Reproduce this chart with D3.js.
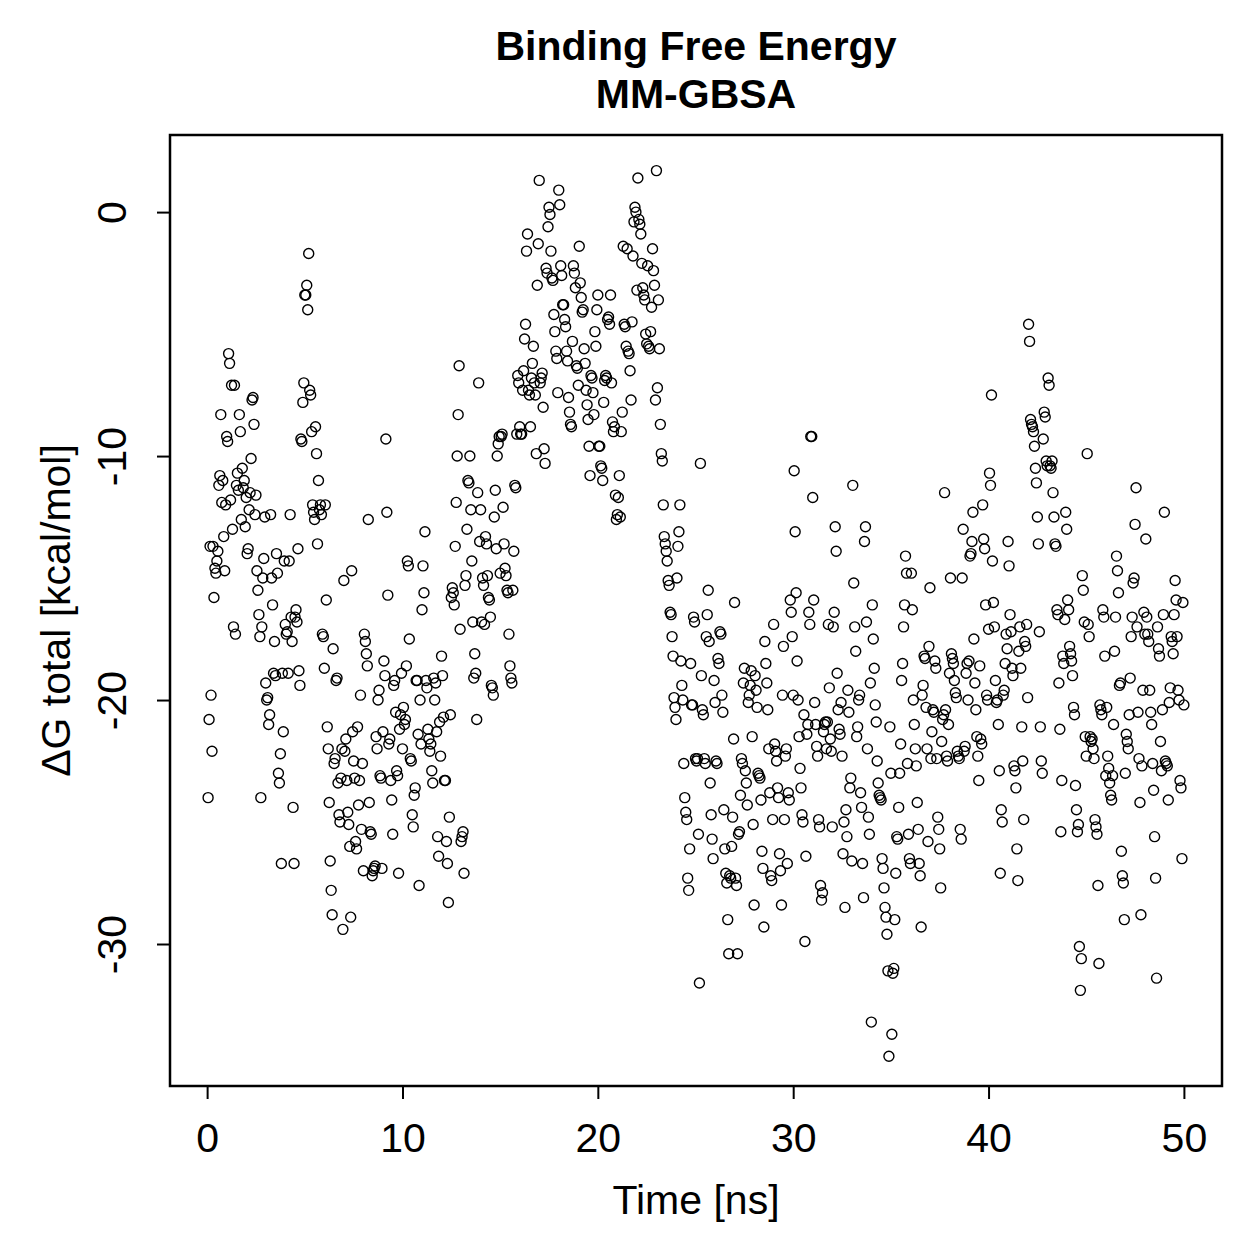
<!DOCTYPE html>
<html>
<head>
<meta charset="utf-8">
<script src="https://cdn.jsdelivr.net/npm/d3@7"></script>
<style>
  body { margin: 0; background: #fff; }
  text { font-family: "Liberation Sans", Arial, Helvetica, sans-serif; fill: #000; }
</style>
</head>
<body>
<div id="chart"></div>
<script>
// MM-GBSA dG per frame, one frame every 0.05 ns
const step = 0.05;

const dG_00_10 = [
  -24.0,-20.8,-13.7,-19.8,-22.1,-13.7,-15.8,-14.6,-14.8,-14.3,-13.9,-11.2,-10.8,-8.3,-11.9,-11.0,-13.3,-14.7,-12.0,-9.2,
  -9.4,-5.8,-6.2,-11.8,-7.1,-13.0,-17.0,-7.1,-17.3,-11.2,-10.7,-11.4,-8.3,-9.0,-12.6,-10.5,-11.3,-11.0,-12.9,-11.7,
  -14.0,-13.8,-12.2,-11.5,-10.1,-7.7,-7.6,-8.7,-12.4,-11.6,-14.7,-15.5,-16.5,-17.4,-24.0,-17.0,-15.0,-14.2,-12.5,-19.3,
  -20.0,-19.9,-21.0,-20.6,-12.4,-15.0,-16.1,-18.9,-17.6,-19.0,-14.0,-14.8,-23.0,-23.4,-22.2,-26.7,-18.9,-21.3,-14.3,-16.9,
  -17.3,-17.2,-18.9,-14.3,-12.4,-16.6,-17.6,-24.4,-26.7,-16.6,-16.3,-16.8,-13.8,-18.8,-19.4,-9.3,-9.4,-7.8,-7.0,-3.4,
  -3.4,-3.0,-4.0,-1.7,-7.3,-7.5,-9.0,-12.0,-12.3,-12.6,-8.8,-9.9,-13.6,-11.0,-12.2,-12.0,-12.4,-17.3,-17.4,-18.7,
  -12.0,-15.9,-21.1,-22.0,-24.2,-26.6,-27.8,-28.8,-17.9,-22.6,-22.4,-19.2,-19.1,-23.4,-24.7,-25.0,-23.2,-22.0,-29.4,-15.1,
  -22.1,-21.6,-23.3,-24.6,-25.1,-26.0,-28.9,-14.7,-21.3,-22.5,-23.2,-25.8,-26.1,-21.1,-24.3,-23.3,-19.8,-25.3,-22.6,-27.0,
  -17.3,-17.6,-18.1,-18.6,-12.6,-24.2,-25.4,-25.5,-27.2,-27.0,-26.9,-26.8,-21.5,-22.0,-20.0,-19.6,-23.1,-23.2,-26.9,-21.3,
  -18.4,-19.0,-9.3,-12.3,-15.7,-21.8,-21.6,-23.3,-24.1,-25.5,-19.4,-19.2,-20.5,-22.9,-23.1,-27.1,-21.2,-20.6,-18.9,-22.0
];

const dG_10_20 = [
  -20.3,-21.0,-20.8,-18.6,-14.3,-14.5,-17.5,-22.4,-22.5,-24.7,-25.2,-23.9,-23.6,-19.2,-19.2,-21.4,-27.6,-20.0,-21.8,-16.3,
  -14.5,-15.6,-13.1,-19.2,-19.5,-21.2,-21.6,-22.1,-21.8,-22.9,-23.4,-19.1,-20.0,-19.3,-21.3,-25.6,-26.4,-20.9,-22.3,-18.2,
  -19.0,-20.7,-23.3,-23.3,-25.8,-26.7,-28.3,-24.8,-20.6,-15.8,-15.4,-15.6,-16.1,-13.7,-11.9,-10.0,-8.3,-6.3,-17.1,-25.8,
  -25.6,-25.4,-27.1,-15.3,-14.9,-13.0,-11.0,-11.1,-10.0,-12.2,-14.3,-16.8,-19.1,-18.1,-18.9,-20.8,-11.5,-7.0,-13.5,-12.2,
  -16.8,-15.0,-15.3,-16.9,-13.3,-13.6,-14.9,-15.8,-15.9,-16.6,-19.4,-19.5,-19.8,-12.5,-11.4,-13.8,-10.0,-9.5,-9.2,-14.8,
  -9.2,-9.1,-12.1,-13.6,-14.6,-14.9,-15.5,-15.6,-17.3,-18.6,-19.1,-19.3,-15.5,-13.9,-11.2,-11.3,-9.1,-6.7,-7.0,-8.8,
  -9.1,-9.1,-7.3,-6.5,-5.2,-4.6,-1.6,-0.9,-7.3,-7.5,-8.8,-6.8,-6.2,-5.5,-7.0,-7.5,-9.9,-3.0,-1.3,1.3,
  -7.0,-6.8,-6.6,-8.0,-9.7,-10.3,-2.3,-2.5,-0.6,0.2,-0.1,-1.6,-2.7,-2.8,-4.2,-4.9,-5.7,-6.0,-7.4,0.9,
  0.3,-2.2,-2.6,-3.8,-3.8,-4.4,-4.7,-5.7,-6.1,-7.6,-8.2,-8.7,-8.8,-5.3,-2.2,-2.5,-3.1,-6.3,-6.4,-7.1,
  -1.4,-2.9,-3.5,-4.1,-4.0,-5.6,-6.2,-7.3,-7.9,-8.5,-9.6,-10.8,-6.7,-6.8,-7.4,-8.3,-4.9,-5.5,-4.0,-3.4
];

const dG_20_30 = [
  -9.6,-9.6,-10.4,-10.5,-11.0,-7.8,-6.9,-6.7,-6.8,-4.4,-4.3,-4.6,-3.4,-7.0,-8.6,-9.0,-8.8,-11.6,-12.6,-12.4,
  -11.7,-10.8,-12.5,-9.0,-8.2,-1.4,-4.6,-4.7,-5.5,-1.5,-5.7,-5.8,-6.5,-7.7,-4.5,-1.8,-0.4,0.2,0.0,-3.2,
  1.4,-0.3,-0.5,-0.9,-2.1,-3.1,-3.4,-3.6,-5.0,-5.4,-2.2,-5.5,-5.6,-4.9,-3.9,-1.5,-2.4,-3.0,-7.7,1.7,
  -7.2,-3.6,-5.6,-8.7,-9.9,-10.2,-12.0,-13.3,-13.6,-13.9,-14.3,-15.1,-15.3,-16.4,-16.5,-17.4,-18.2,-19.9,-20.3,-20.8,
  -15.0,-13.7,-13.1,-12.0,-18.4,-19.4,-20.0,-22.6,-24.0,-24.6,-24.9,-27.3,-27.8,-26.1,-18.5,-20.2,-20.2,-16.6,-16.8,-22.4,
  -22.5,-22.4,-25.5,-31.6,-10.3,-19.0,-20.4,-20.6,-22.4,-22.6,-17.4,-16.5,-15.5,-17.6,-23.4,-24.7,-25.7,-26.5,-19.2,-20.1,
  -22.5,-22.6,-18.3,-18.5,-17.2,-17.3,-19.8,-20.5,-24.5,-26.1,-27.1,-27.5,-29.0,-30.4,-27.2,-27.3,-26.0,-24.8,-21.6,-16.0,
  -27.3,-27.6,-30.4,-25.5,-25.4,-23.9,-22.4,-22.6,-19.3,-18.7,-22.9,-23.4,-24.3,-20.1,-19.8,-19.4,-18.8,-21.5,-25.1,-28.4,
  -19.0,-19.6,-20.3,-23.0,-23.1,-23.2,-24.1,-26.2,-26.9,-29.3,-17.6,-18.5,-19.3,-20.4,-22.0,-23.8,-27.2,-27.4,-24.9,-16.9,
  -21.8,-22.1,-22.5,-23.6,-24.0,-26.3,-27.0,-28.4,-19.8,-17.8,-24.9,-22.3,-22.0,-26.7,-23.8,-24.1,-15.9,-16.4,-17.4,-19.8
];

const dG_30_40 = [
  -10.6,-13.1,-15.6,-18.4,-20.0,-21.5,-22.8,-23.6,-24.7,-25.0,-20.6,-29.9,-26.4,-21.4,-21.0,-16.4,-16.9,-9.2,-9.2,-11.7,
  -15.9,-20.1,-21.0,-21.9,-22.3,-24.9,-25.2,-27.6,-28.2,-27.9,-21.3,-21.0,-20.9,-22.0,-20.9,-16.9,-19.5,-21.6,-22.1,-25.2,
  -17.0,-16.4,-12.9,-13.9,-18.9,-20.4,-21.2,-21.4,-20.1,-22.3,-26.3,-25.0,-28.5,-24.5,-25.6,-19.6,-20.5,-23.6,-23.2,-26.6,
  -11.2,-15.2,-17.0,-18.0,-21.5,-21.1,-20.0,-19.8,-23.8,-24.4,-26.7,-28.1,-13.5,-12.9,-16.8,-22.0,-24.8,-25.5,-19.3,-33.2,
  -16.1,-17.5,-18.7,-20.2,-20.9,-22.5,-23.4,-23.9,-24.0,-24.1,-26.5,-26.9,-27.7,-28.5,-28.9,-29.6,-31.1,-34.6,-21.1,-23.0,
  -33.7,-31.2,-31.0,-29.0,-27.1,-25.6,-25.7,-24.4,-23.0,-21.8,-19.2,-18.5,-17.0,-16.1,-14.1,-14.8,-22.6,-25.5,-26.5,-26.7,
  -14.8,-16.3,-20.0,-21.0,-22.0,-22.7,-24.2,-25.3,-26.7,-27.2,-29.3,-19.8,-19.4,-18.2,-18.3,-20.3,-22.0,-25.8,-17.8,-15.4,
  -22.4,-21.3,-20.4,-20.5,-18.4,-18.7,-22.4,-24.8,-25.3,-26.1,-27.7,-21.7,-20.8,-20.6,-11.5,-20.4,-22.3,-22.5,-21.0,-18.9,
  -15.0,-18.1,-18.3,-18.5,-19.2,-19.7,-19.9,-22.1,-22.3,-22.4,-25.3,-25.7,-15.0,-13.0,-22.1,-21.9,-18.9,-18.5,-20.0,-18.4,
  -14.1,-14.0,-13.5,-12.3,-17.5,-19.3,-20.4,-21.5,-22.3,-23.3,-18.6,-21.6,-21.8,-12.0,-13.4,-13.8,-16.1,-19.8,-20.0,-17.1
];

const dG_40_50 = [
  -10.7,-11.2,-7.5,-14.3,-16.0,-17.0,-19.2,-20.1,-20.0,-21.0,-22.9,-27.1,-24.5,-25.0,-19.8,-19.6,-18.5,-17.3,-17.9,-13.5,
  -14.5,-16.5,-17.2,-18.7,-19.0,-22.7,-22.9,-23.6,-26.1,-27.4,-18.0,-17.0,-18.7,-21.1,-22.5,-24.9,-17.6,-17.8,-16.9,-19.9,
  -4.6,-5.3,-8.5,-8.7,-8.8,-9.0,-9.6,-10.5,-11.1,-12.5,-13.6,-17.2,-21.1,-22.5,-23.0,-9.3,-8.2,-8.4,-10.2,-10.4,
  -6.8,-7.1,-10.4,-10.5,-10.2,-11.5,-12.5,-13.6,-13.7,-16.3,-16.5,-19.3,-21.2,-25.4,-23.3,-18.2,-18.5,-16.7,-12.3,-13.0,
  -15.9,-16.3,-17.8,-18.1,-18.4,-19.0,-20.3,-20.6,-23.5,-24.5,-25.4,-25.1,-30.1,-31.9,-30.6,-14.9,-15.5,-16.8,-21.5,-22.3,
  -9.9,-16.9,-17.4,-21.5,-21.7,-21.6,-22.0,-22.4,-24.9,-25.2,-25.5,-27.6,-30.8,-20.2,-20.4,-20.6,-16.3,-16.6,-18.2,-23.1,
  -20.3,-22.3,-22.8,-23.4,-23.9,-24.1,-23.1,-21.0,-18.0,-16.6,-14.1,-14.7,-15.6,-19.4,-19.3,-26.2,-27.2,-27.5,-29.0,-23.0,
  -21.4,-21.7,-22.0,-20.6,-19.1,-17.4,-16.6,-15.2,-15.0,-12.8,-11.3,-17.0,-20.5,-22.4,-24.2,-28.8,-22.7,-19.6,-16.4,-17.3,
  -13.4,-16.6,-17.3,-17.6,-19.6,-20.5,-21.0,-22.6,-23.7,-25.6,-27.3,-31.4,-17.0,-17.9,-18.2,-21.7,-22.9,-20.4,-16.5,-12.3,
  -22.5,-22.6,-22.7,-24.1,-20.1,-19.5,-17.4,-17.6,-18.1,-16.5,-15.1,-15.9,-17.4,-19.6,-20.0,-23.3,-23.6,-26.5,-16.0,-20.2
];

const xTicks = [0, 10, 20, 30, 40, 50];
const yTicks = [0, -10, -20, -30];

const data = [].concat(dG_00_10, dG_10_20, dG_20_30, dG_30_40, dG_40_50)
  .map((v, i) => ({ t: (i + 1) * step, dG: v }));

const W = 1259, H = 1259;
const box = { left: 170, right: 1222, top: 135, bottom: 1086 };
const fontSize = 41;

const svg = d3.select('#chart').append('svg')
  .attr('width', W)
  .attr('height', H);

const x = d3.scaleLinear().domain([-1.9, 51.95]).range([box.left, box.right]);
const y = d3.scaleLinear().domain([-35.82, 3.16]).range([box.bottom, box.top]);

// points
svg.append('g')
  .selectAll('circle')
  .data(data)
  .enter()
  .append('circle')
  .attr('cx', d => x(d.t))
  .attr('cy', d => y(d.dG))
  .attr('r', 5)
  .attr('fill', 'none')
  .attr('stroke', '#000')
  .attr('stroke-width', 1.4);

// x axis
const xAxis = svg.append('g')
  .attr('transform', `translate(0, ${box.bottom})`)
  .call(d3.axisBottom(x).tickValues(xTicks).tickSize(13).tickPadding(24).tickFormat(d3.format('d')));
xAxis.select('.domain').remove();
xAxis.selectAll('line').attr('stroke', '#000').attr('stroke-width', 2);
xAxis.selectAll('text')
  .style('font-size', fontSize + 'px')
  .attr('fill', '#000');

// y axis, labels turned like in R (las = 0)
const yAxis = svg.append('g')
  .attr('transform', `translate(${box.left}, 0)`)
  .call(d3.axisLeft(y).tickValues(yTicks).tickSize(13).tickFormat(d => String(d)));
yAxis.select('.domain').remove();
yAxis.selectAll('line').attr('stroke', '#000').attr('stroke-width', 2);
yAxis.selectAll('text')
  .style('font-size', fontSize + 'px')
  .attr('fill', '#000')
  .attr('transform', 'rotate(-90)')
  .attr('x', 0)
  .attr('y', -44)
  .attr('dy', null)
  .attr('text-anchor', 'middle');

// frame
svg.append('rect')
  .attr('x', box.left)
  .attr('y', box.top)
  .attr('width', box.right - box.left)
  .attr('height', box.bottom - box.top)
  .attr('fill', 'none')
  .attr('stroke', '#000')
  .attr('stroke-width', 2.5);

// titles
const cx = (box.left + box.right) / 2;
svg.append('text')
  .attr('x', cx).attr('y', 60)
  .attr('text-anchor', 'middle')
  .style('font-size', fontSize + 'px')
  .style('font-weight', 'bold')
  .text('Binding Free Energy');
svg.append('text')
  .attr('x', cx).attr('y', 108)
  .attr('text-anchor', 'middle')
  .style('font-size', fontSize + 'px')
  .style('font-weight', 'bold')
  .text('MM-GBSA');

svg.append('text')
  .attr('x', cx).attr('y', 1214)
  .attr('text-anchor', 'middle')
  .style('font-size', fontSize + 'px')
  .text('Time [ns]');

svg.append('text')
  .attr('transform', `translate(70, ${(box.top + box.bottom) / 2}) rotate(-90)`)
  .attr('text-anchor', 'middle')
  .style('font-size', fontSize + 'px')
  .text('ΔG total [kcal/mol]');
</script>
</body>
</html>
